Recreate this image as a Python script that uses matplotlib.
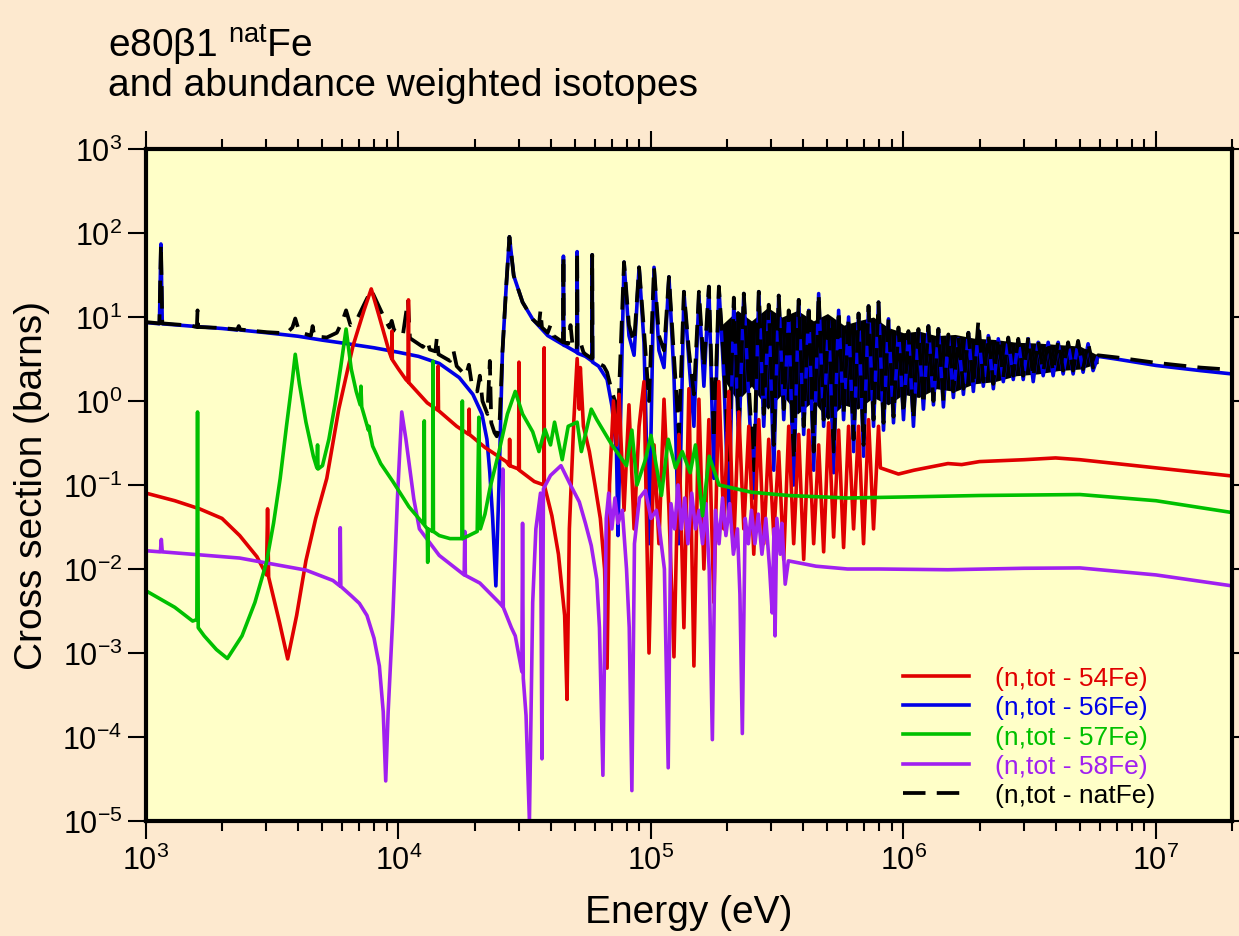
import numpy as np
import matplotlib
matplotlib.use('Agg')
import matplotlib.pyplot as plt
from matplotlib.ticker import LogLocator, NullLocator, FuncFormatter

plt.rcParams['font.family'] = ['Liberation Sans', 'DejaVu Sans']
plt.rcParams['mathtext.fontset'] = 'custom'
plt.rcParams['mathtext.rm'] = 'Liberation Sans'
plt.rcParams['mathtext.it'] = 'Liberation Sans:italic'

FIG_BG = '#fde9cf'
AX_BG = '#ffffc8'
C54, C56, C57, C58 = '#e00000', '#0000e6', '#00c000', '#a020f0'

# total cross sections, (energy eV, barns), abundance weighted

# 54Fe
fe54_low = [(1000, 0.08), (1300, 0.065), (1630, 0.052), (2000, 0.04), (2350, 0.025),
            (2750, 0.014), (3000, 0.0085), (3030, 0.052), (3060, 0.008), (3380, 0.0023),
            (3640, 0.00085), (3950, 0.0028), (4300, 0.0126), (4700, 0.04), (5200, 0.12),
            (5800, 0.8), (6600, 4.5), (7300, 12), (7800, 21.6), (8400, 10), (9200, 3.8),
            (9400, 3.2), (9420, 6.8), (9450, 3.1), (10000, 2.4), (10700, 1.8), (10900, 1.7),
            (10950, 16), (11000, 1.65), (13000, 0.95), (14300, 0.78), (14350, 2.6),
            (14400, 0.77), (17000, 0.5), (19000, 0.4), (19050, 0.8), (19100, 0.4),
            (22000, 0.28), (26700, 0.19), (27500, 0.17), (27550, 0.35), (27600, 0.17),
            (29900, 0.155), (30000, 2.9), (30100, 0.15), (34500, 0.11), (37700, 0.1),
            (37750, 4.3), (37800, 0.1), (40500, 0.043), (43000, 0.015), (45500, 0.0028),
            (46500, 0.00028), (47500, 0.03), (49500, 0.6), (51000, 3.2), (52000, 0.8),
            (52500, 2.5), (54000, 0.5), (57000, 0.25), (60000, 0.1), (63000, 0.04),
            (65500, 0.01), (67000, 0.00066), (68500, 0.1), (71000, 1.0), (73000, 0.3)]
fe54_res = [(74700, 1.2), (78200, 0.05), (81800, 0.9), (85700, 0.03), (89700, 0.5),
            (93800, 1.7), (98200, 0.001), (102800, 0.3), (107500, 0.02), (112600, 1.05),
            (117800, 0.05), (123300, 0.0009), (129000, 0.4), (135000, 0.002), (141300, 1.4),
            (147900, 0.0007), (154800, 1.05), (162000, 0.01), (169500, 0.6), (177400, 0.004),
            (185700, 1.7), (194300, 0.03), (203300, 1.3), (212800, 0.02), (222700, 0.74),
            (233100, 0.03), (244000, 0.5), (255300, 0.015), (267200, 0.6), (279600, 0.02),
            (292600, 0.35), (306300, 0.025), (320500, 0.25), (335500, 0.013), (351100, 0.5),
            (367400, 0.02), (384600, 0.4), (402500, 0.013), (421200, 0.45), (440800, 0.02),
            (461300, 0.3), (482800, 0.016), (505300, 0.55), (528800, 0.024), (553400, 0.45),
            (579100, 0.018), (606100, 0.5), (634300, 0.03), (663800, 0.5), (694700, 0.02),
            (727100, 0.6), (760900, 0.03), (796300, 0.5)]
fe54_high = [(810000, 0.16), (955000, 0.135), (1.1e6, 0.15), (1.5e6, 0.18), (1.7e6, 0.175),
             (2e6, 0.19), (3e6, 0.2), (4e6, 0.21), (5e6, 0.2), (1e7, 0.16), (2e7, 0.128)]

# 56Fe below the dense resonance band
fe56_low = [(1000, 8.6), (1130, 8.3), (1146, 74), (1160, 8.3), (1500, 7.8), (2000, 7.3),
            (2300, 7.0), (2330, 7.6), (2360, 7.0), (3000, 6.5), (4000, 5.9), (5000, 5.3),
            (6000, 4.9), (8000, 4.3), (10000, 3.8), (12000, 3.4), (14500, 2.8), (17400, 1.9),
            (19700, 1.2), (21400, 0.7), (22400, 0.35), (23000, 0.14), (23600, 0.04),
            (24300, 0.0063), (25000, 0.1), (25800, 3.8), (26700, 23), (27500, 90),
            (28600, 31), (31000, 15), (34000, 9.4), (39000, 6.0), (44800, 4.7), (45000, 53),
            (45200, 4.6), (46000, 4.5), (50800, 3.8), (51000, 60), (51200, 3.7), (55000, 3.4),
            (58300, 3.0), (58500, 55), (58700, 2.9), (62000, 2.6), (67000, 1.8), (70000, 0.88),
            (73000, 0.25), (74000, 0.025)]

natfe_low = [(1000, 8.7), (1130, 8.4), (1146, 74), (1160, 8.4), (1500, 7.9), (1590, 7.6),
             (1600, 12), (1610, 7.6), (2000, 7.4), (2300, 7.1), (2330, 7.8), (2360, 7.1),
             (3000, 6.6), (3600, 6.4), (3800, 7.5), (3900, 9.6), (4050, 6.6), (4500, 6.0),
             (4570, 7.8), (4640, 5.9), (5200, 5.7), (5700, 6.5), (6000, 9), (6200, 12),
             (6450, 8), (6800, 9), (7300, 14), (7800, 21), (8300, 14), (8800, 9.6),
             (9200, 7.5), (9400, 9), (9600, 7.0), (10400, 6.0), (10900, 16), (11100, 5.6),
             (12500, 4.4), (13000, 5.3), (13300, 4.1), (14000, 3.9), (14200, 5.8),
             (14400, 3.6), (16000, 3.0), (16500, 4.0), (17000, 2.6), (18500, 2.0),
             (19000, 2.7), (19500, 1.6), (20500, 1.3), (21000, 2.0), (21500, 1.0),
             (22500, 0.7), (23000, 3.0), (23300, 0.55), (24000, 0.42), (24500, 0.38),
             (25100, 0.5), (25800, 3.8), (26700, 23), (27500, 90), (28600, 31), (31000, 15),
             (34000, 9.4), (36000, 8), (36500, 12), (37000, 7.5), (39000, 6.5), (40000, 8),
             (41000, 6.0), (44800, 5.0), (45000, 53), (45200, 5.0), (47000, 4.8), (48000, 8),
             (49000, 4.4), (50800, 4.0), (51000, 60), (51200, 4.0), (53000, 4.6),
             (54000, 3.8), (55000, 3.6), (58300, 3.2), (58500, 55), (58700, 3.1),
             (62000, 2.8), (65000, 2.6), (67000, 2.2), (70000, 1.3), (72000, 1.0),
             (74000, 0.6)]

# resonance band shared by 56Fe and natFe
band_e = [78200, 81800, 85700, 89700, 93800, 98200, 102800, 107500, 112600, 117800,
          123300, 129000, 135000, 141300, 147900, 154800, 162000, 169500, 177400, 185700,
          194300, 203300, 212800, 222700, 233100, 244000, 255300, 267200, 279600, 292600,
          306300, 320500, 335500, 351100, 367400, 384600, 402500, 421200, 440800, 461300,
          482800, 505300, 528800, 553400, 579100, 606100, 634300, 663800, 694700, 727100,
          760900, 796300, 833400, 872200, 912800, 955300, 1.0e6, 1.046e6, 1.095e6, 1.146e6,
          1.199e6, 1.255e6, 1.314e6, 1.375e6, 1.439e6, 1.506e6, 1.576e6, 1.65e6, 1.727e6, 1.807e6,
          1.891e6, 1.979e6, 2.071e6, 2.168e6, 2.269e6, 2.374e6, 2.485e6, 2.6e6, 2.721e6, 2.848e6,
          2.98e6, 3.119e6, 3.264e6, 3.416e6, 3.575e6, 3.741e6, 3.915e6, 4.098e6, 4.288e6, 4.488e6,
          4.697e6, 4.915e6, 5.144e6, 5.383e6, 5.634e6, 5.897e6]
band_56 = [45, 6, 3.5, 39, 5, 0.02, 39, 4, 2.5, 30,
           2, 0.02, 20, 3, 0.5, 18, 1.5, 23, 0.12, 23,
           2, 0.04, 15, 0.3, 19, 1, 0.07, 20, 0.5, 12,
           0.15, 18, 0.6, 10, 0.1, 16, 0.4, 12, 0.15, 19,
           0.5, 9, 0.14, 12, 0.6, 10, 0.25, 11, 0.22, 13.5,
           0.5, 15, 0.45, 9.5, 0.55, 7, 0.6, 6.6, 0.5, 7,
           0.8, 7.8, 0.9, 7.2, 0.85, 6, 1.1, 5.5, 1.2, 6.5,
           1.3, 7, 1.5, 6, 1.4, 5.5, 1.7, 5.5, 1.8, 5.3,
           1.8, 5.5, 1.7, 5, 2, 5, 2, 5, 2.1, 4.8,
           2.1, 5, 2.2, 4.8, 2.3, 3.4]
band_nat = [45, 8, 5, 39, 7, 1.0, 39, 6, 4, 30,
            3.5, 0.4, 20, 4, 1.2, 20, 2.5, 23, 0.35, 23,
            3, 0.2, 17, 0.5, 19, 1.5, 0.15, 20, 0.7, 14,
            0.3, 18, 0.8, 12, 0.2, 16, 0.5, 14, 0.25, 19,
            0.6, 10, 0.25, 12, 0.7, 10, 0.35, 11, 0.3, 13.5,
            0.6, 15, 0.55, 9.5, 0.65, 7.5, 0.7, 6.8, 0.6, 7.2,
            0.9, 7.8, 1.0, 7.2, 1.0, 6.2, 1.3, 5.8, 1.4, 6.5,
            1.5, 9, 1.7, 6.2, 1.6, 5.7, 1.9, 5.7, 2.0, 5.5,
            2.0, 5.7, 1.9, 5.2, 2.2, 5.2, 2.2, 5.2, 2.3, 5.0,
            2.3, 5.2, 2.4, 5.0, 2.5, 3.5]

# where the natFe resonances overlap into a solid band
core_e = [1.9e5, 2.2e5, 2.5e5, 2.9e5, 3.3e5, 3.8e5, 4.4e5, 5.0e5, 5.8e5, 6.6e5, 7.6e5,
          8.7e5, 1.0e6, 1.15e6, 1.35e6, 1.6e6, 1.9e6, 2.3e6, 2.8e6, 3.4e6, 4.1e6, 5.0e6, 5.9e6]
core_lo = [2.0, 1.0, 1.5, 0.8, 1.2, 0.7, 1.0, 0.6, 0.9, 0.8, 1.1,
           0.9, 1.2, 1.1, 1.4, 1.3, 1.6, 1.7, 2.0, 2.1, 2.3, 2.4, 2.8]
core_hi = [8, 12, 9, 13, 10, 12, 9, 11, 8, 9, 10,
           7.5, 6.5, 6.8, 6.0, 6.2, 5.6, 5.4, 5.0, 4.9, 4.7, 4.5, 3.5]

fe56_high = [(7e6, 3.15), (1e7, 2.65), (1.5e7, 2.3), (2e7, 2.1)]
natfe_high = [(7e6, 3.3), (1e7, 2.85), (1.5e7, 2.5), (2e7, 2.35)]

# 57Fe
fe57 = [(1000, 0.0055), (1300, 0.0035), (1530, 0.0024), (1590, 0.0025), (1600, 0.74),
        (1610, 0.002), (1700, 0.0016), (1900, 0.0011), (2100, 0.00086), (2400, 0.0016),
        (2700, 0.004), (3000, 0.012), (3200, 0.035), (3400, 0.12), (3600, 0.5), (3800, 1.8),
        (3900, 3.6), (4050, 1.6), (4300, 0.56), (4600, 0.22), (4750, 0.16), (4780, 0.3),
        (4800, 0.155), (5000, 0.17), (5300, 0.35), (5600, 0.9), (5900, 2.5), (6200, 7.2),
        (6500, 2.4), (6800, 1.3), (7050, 0.9), (7100, 1.5), (7150, 0.85), (7600, 0.45),
        (7650, 0.5), (7700, 0.42), (7900, 0.29), (8500, 0.18), (9500, 0.11), (11000, 0.055),
        (12600, 0.034), (12650, 0.58), (12700, 0.033), (13000, 0.03), (13050, 0.012),
        (13100, 0.03), (13650, 0.028), (13700, 2.97), (13750, 0.028), (14500, 0.025),
        (16000, 0.023), (17850, 0.023), (17900, 1.0), (17950, 0.023), (19000, 0.025),
        (20500, 0.028), (20800, 0.64), (21100, 0.03), (22000, 0.045), (23000, 0.09),
        (25000, 0.25), (27000, 0.7), (29000, 1.3), (31000, 0.7), (34000, 0.43),
        (36000, 0.25), (38000, 0.46), (40000, 0.3), (41500, 0.56), (44500, 0.2),
        (47000, 0.5), (51000, 0.56), (53000, 0.25), (58000, 0.8), (61000, 0.6),
        (70000, 0.3), (80000, 0.17), (84000, 0.45), (88000, 0.1), (95000, 0.2),
        (100000, 0.39), (110000, 0.075), (117000, 0.35), (125000, 0.16), (133000, 0.25),
        (143000, 0.14), (150000, 0.3), (160000, 0.043), (170000, 0.22), (186000, 0.1),
        (250000, 0.082), (350000, 0.075), (600000, 0.07), (1e6, 0.072), (2e6, 0.075),
        (5e6, 0.077), (1e7, 0.065), (2e7, 0.047)]

# 58Fe
fe58 = [(1000, 0.0165), (1140, 0.016), (1150, 0.0225), (1160, 0.016), (2350, 0.0135),
        (3000, 0.0118), (4300, 0.0097), (5500, 0.0073), (5850, 0.0063), (5880, 0.031),
        (5910, 0.0062), (6500, 0.0048), (7000, 0.0039), (7500, 0.0028), (8000, 0.0015),
        (8400, 0.0007), (8700, 0.0002), (8900, 3e-5), (9100, 0.0002), (9500, 0.0028),
        (9900, 0.068), (10300, 0.74), (10700, 0.35), (11500, 0.068), (12100, 0.03),
        (14500, 0.0145), (18200, 0.0085), (18300, 0.028), (18400, 0.0084), (21000, 0.0068),
        (25000, 0.004), (25800, 0.0036), (25900, 0.155), (26000, 0.0035), (28000, 0.002),
        (29000, 0.0016), (30800, 0.0006), (31000, 0.035), (31200, 0.0005), (32000, 0.00018),
        (33000, 1e-5), (34000, 0.004), (35000, 0.03), (36500, 0.08), (37000, 5.5e-5),
        (37500, 0.09), (40000, 0.13), (44000, 0.17), (48000, 0.1), (52000, 0.063),
        (55000, 0.035), (58000, 0.019), (61000, 0.0075), (62500, 0.002), (64500, 3.5e-5),
        (66500, 0.04), (68000, 0.08), (70000, 0.03), (72000, 0.07), (74000, 0.035),
        (77000, 0.05), (80000, 0.01), (82000, 0.002), (84000, 2.3e-5), (86000, 0.02),
        (90000, 0.07), (95000, 0.086), (100000, 0.04), (105000, 0.05), (108000, 0.03),
        (113000, 0.01), (117000, 4.3e-5), (120000, 0.06), (124000, 0.03), (128000, 0.1),
        (132000, 0.03), (136000, 0.07), (140000, 0.02), (145000, 0.08), (150000, 0.03),
        (155000, 0.05), (160000, 0.02), (165000, 0.06), (170000, 0.01), (175000, 9.3e-5),
        (180000, 0.05), (186000, 0.02), (192000, 0.07), (198000, 0.025), (205000, 0.06),
        (212000, 0.015), (220000, 0.03), (225000, 0.005), (230000, 1.1e-4), (236000, 0.04),
        (243000, 0.02), (250000, 0.05), (258000, 0.02), (266000, 0.045), (275000, 0.015),
        (285000, 0.04), (295000, 0.01), (302000, 0.003), (307000, 0.03), (310000, 0.0016),
        (315000, 0.04), (325000, 0.015), (330000, 0.035), (340000, 0.0066), (350000, 0.0125),
        (450000, 0.0108), (600000, 0.01), (800000, 0.01), (1.5e6, 0.0098), (3e6, 0.0102),
        (5e6, 0.0103), (1e7, 0.0085), (2e7, 0.0063)]


def unzip(*parts):
    e, s = [], []
    for part in parts:
        pe, ps = zip(*part)
        e += pe
        s += ps
    return e, s


assert len(band_e) == len(band_56) == len(band_nat)
band56 = list(zip(band_e, band_56))
bandnat = list(zip(band_e, band_nat))

e54, s54 = unzip(fe54_low, fe54_res, fe54_high)
e56, s56 = unzip(fe56_low, band56, fe56_high)
enat, snat = unzip(natfe_low, bandnat, natfe_high)
e57, s57 = unzip(fe57)
e58, s58 = unzip(fe58)

fig = plt.figure(figsize=(12.39, 9.37), dpi=100, facecolor=FIG_BG)
ax = fig.add_axes([146 / 1239, 1 - 822 / 937, 1086 / 1239, 672 / 937])
ax.set_facecolor(AX_BG)

lw = 2.6
ax.fill_between(core_e, core_lo, core_hi, color='black', lw=0, zorder=1.5)
h56, = ax.plot(e56, s56, color=C56, lw=lw, label='(n,tot - 56Fe)')
hnat, = ax.plot(enat, snat, color='black', lw=2.7, ls=(0, (6, 3)),
                label='(n,tot - natFe)')
h54, = ax.plot(e54, s54, color=C54, lw=lw, label='(n,tot - 54Fe)')
h58, = ax.plot(e58, s58, color=C58, lw=lw, label='(n,tot - 58Fe)')
h57, = ax.plot(e57, s57, color=C57, lw=lw, label='(n,tot - 57Fe)')

ax.set_xscale('log')
ax.set_yscale('log')
ax.set_xlim(1e3, 2e7)
ax.set_ylim(1e-5, 1e3)

decade = FuncFormatter(lambda v, pos: r'$\mathregular{10^{%d}}$' % round(np.log10(v)))
ax.xaxis.set_major_locator(LogLocator(base=10, numticks=20))
ax.xaxis.set_minor_locator(LogLocator(base=10, subs=np.arange(2, 10), numticks=100))
ax.xaxis.set_major_formatter(decade)
ax.yaxis.set_major_locator(LogLocator(base=10, numticks=20))
ax.yaxis.set_minor_locator(NullLocator())
ax.yaxis.set_major_formatter(decade)

ax.tick_params(which='major', direction='out', length=13, width=1.5, labelsize=22,
               top=True, right=True, pad=4)
ax.tick_params(which='minor', direction='out', length=7, width=1.5, top=True)
for sp in ax.spines.values():
    sp.set_linewidth(3)

ax.set_xlabel('Energy (eV)', fontsize=28)
ax.set_ylabel('Cross section (barns)', fontsize=28)
ax.xaxis.set_label_coords(0.5, -0.108)
ax.yaxis.set_label_coords(-0.088, 0.5)

fig.text(108 / 1239, 1 - 57 / 937, r'e80β1 $\mathregular{^{nat}}$Fe', fontsize=28,
         va='baseline', ha='left')
fig.text(108 / 1239, 1 - 96 / 937, 'and abundance weighted isotopes', fontsize=28,
         va='baseline', ha='left')

ax.legend(handles=[h54, h56, h57, h58, hnat], loc='upper left',
          bbox_to_anchor=(903 / 1239, 1 - 667 / 937), bbox_transform=fig.transFigure,
          frameon=False, fontsize=19, labelcolor='linecolor', handlelength=2.5,
          handletextpad=1.0, labelspacing=0.2, borderpad=0, borderaxespad=0)

fig.savefig('out.png', dpi=100, facecolor=FIG_BG)
